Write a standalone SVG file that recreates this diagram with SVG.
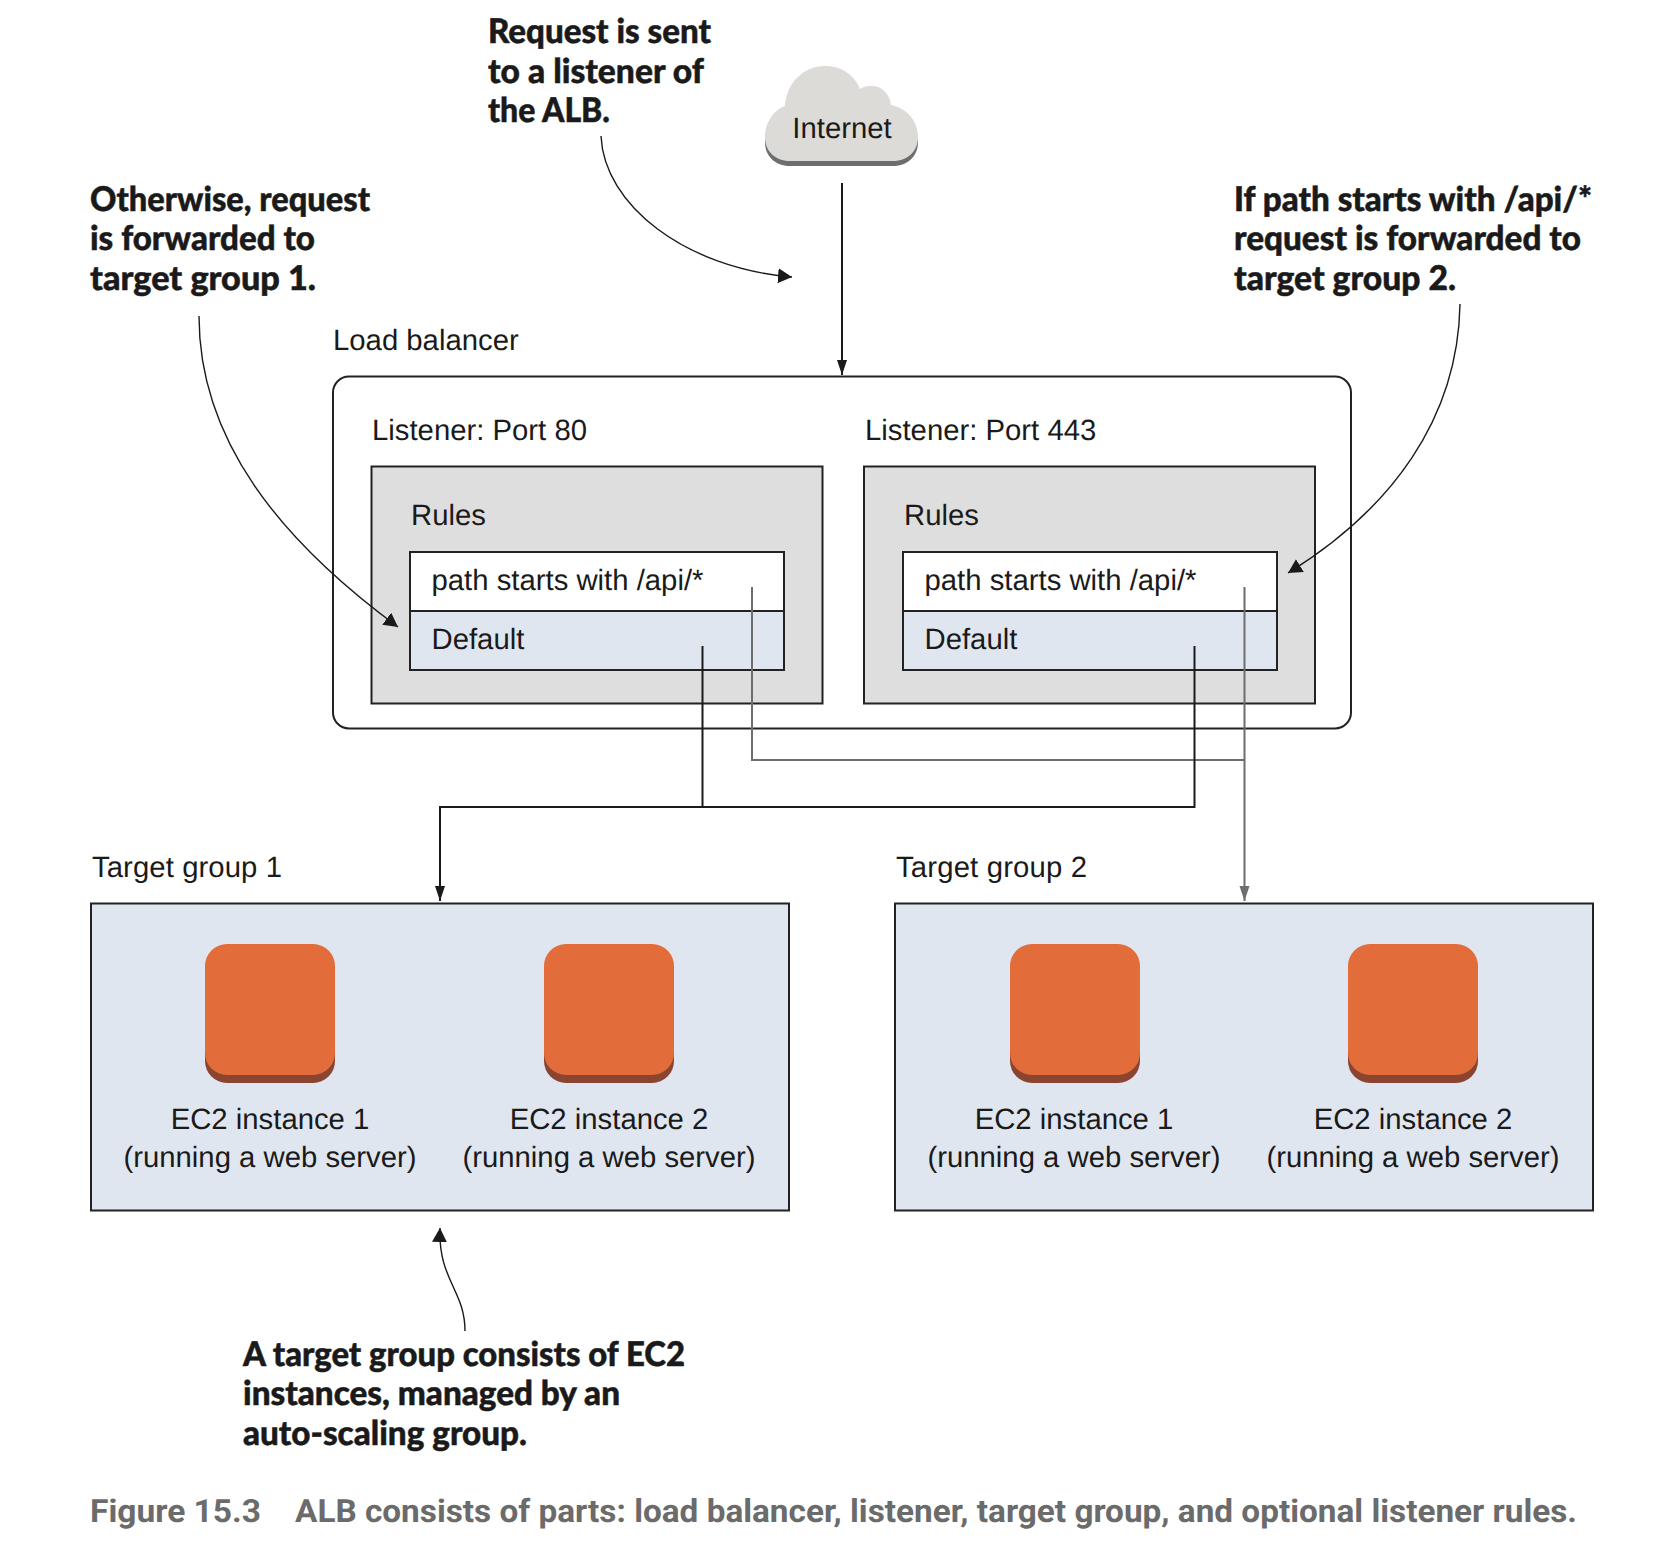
<svg xmlns="http://www.w3.org/2000/svg" width="1672" height="1548" viewBox="0 0 1672 1548">
<style>
text{text-rendering:geometricPrecision}
.t{font-family:"Liberation Sans",Arial,sans-serif;font-size:29.3px;fill:#1a1a1a}
.m{text-anchor:middle}
.c{font-family:Lato,"Noto Sans",sans-serif;font-weight:900;font-size:34px;fill:#1a1a1a;stroke:#1a1a1a;stroke-width:.5}
.f{font-family:Roboto,"Liberation Sans",sans-serif;font-weight:700;font-size:32px;fill:#6b6b6b}
.box{stroke:#222;stroke-width:2}
.gray{fill:#dedede}.blue{fill:#e0e6ef}.white{fill:#fff}
.k{fill:none;stroke:#1a1a1a;stroke-width:2}
.g{fill:none;stroke:#6d6d6d;stroke-width:2}
.n{fill:none;stroke:#1a1a1a;stroke-width:1.4}
</style>
<defs>
<marker id="ak" markerUnits="userSpaceOnUse" markerWidth="16" markerHeight="12" refX="15" refY="5" orient="auto"><path d="M0 0L15 5L0 10Z" fill="#1a1a1a"/></marker>
<marker id="ag" markerUnits="userSpaceOnUse" markerWidth="16" markerHeight="12" refX="15" refY="5" orient="auto"><path d="M0 0L15 5L0 10Z" fill="#6d6d6d"/></marker>
<marker id="an" markerUnits="userSpaceOnUse" markerWidth="15" markerHeight="16" refX="14" refY="7.500" orient="auto"><path d="M0 0L14 7.500L0 15Z" fill="#1a1a1a"/></marker>
<g id="ec2"><rect x="0" y="8" width="130" height="131" rx="22" fill="#8a4430"/><rect x="0" y="0" width="130" height="131" rx="22" fill="#e26c3a"/></g>
<path id="cloudshape" d="M790 161C775 161 765 151 765 137C765 122 774 110 785 106C786 84 803 66 825 66C843 66 855 76 860 89C864 86 868 86 872 86C882 86 890 94 891 105C906 108 918 120 918 137C918 151 908 161 893 161Z"/>
</defs>
<rect width="1672" height="1548" fill="#fff"/>

<g id="internet">
<use href="#cloudshape" y="5" fill="#6b6f6e"/>
<use href="#cloudshape" fill="#dcdbd7"/>
<text class="t m" x="842" y="138">Internet</text>
</g>

<g id="load-balancer">
<text class="t" x="333" y="350">Load balancer</text>
<rect class="box white" x="333" y="376.500" width="1018" height="352" rx="16"/>
</g>

<g id="listener-80">
<text class="t" x="372" y="440">Listener: Port 80</text>
<rect class="box gray" x="371.500" y="466.500" width="451" height="237"/>
<text class="t" x="411" y="525">Rules</text>
<rect class="box white" x="410" y="552" width="374" height="59"/>
<rect class="box blue" x="410" y="611" width="374" height="59"/>
<text class="t" x="431.500" y="590">path starts with /api/*</text>
<text class="t" x="431.500" y="649">Default</text>
</g>

<g id="listener-443">
<text class="t" x="865" y="440">Listener: Port 443</text>
<rect class="box gray" x="864" y="466.500" width="451" height="237"/>
<text class="t" x="904" y="525">Rules</text>
<rect class="box white" x="903" y="552" width="374" height="59"/>
<rect class="box blue" x="903" y="611" width="374" height="59"/>
<text class="t" x="924.500" y="590">path starts with /api/*</text>
<text class="t" x="924.500" y="649">Default</text>
</g>

<g id="target-group-1">
<text class="t" x="92" y="877" textLength="190" lengthAdjust="spacing">Target group 1</text>
<rect class="box blue" x="91" y="903.500" width="698" height="307"/>
<use href="#ec2" x="205" y="944"/>
<use href="#ec2" x="544" y="944"/>
<text class="t m" x="270" y="1129">EC2 instance 1</text>
<text class="t m" x="270" y="1167">(running a web server)</text>
<text class="t m" x="609" y="1129">EC2 instance 2</text>
<text class="t m" x="609" y="1167">(running a web server)</text>
</g>

<g id="target-group-2">
<text class="t" x="896" y="877" textLength="191" lengthAdjust="spacing">Target group 2</text>
<rect class="box blue" x="895" y="903.500" width="698" height="307"/>
<use href="#ec2" x="1010" y="944"/>
<use href="#ec2" x="1348" y="944"/>
<text class="t m" x="1074" y="1129">EC2 instance 1</text>
<text class="t m" x="1074" y="1167">(running a web server)</text>
<text class="t m" x="1413" y="1129">EC2 instance 2</text>
<text class="t m" x="1413" y="1167">(running a web server)</text>
</g>

<g id="connectors">
<path class="k" d="M842 183V375" marker-end="url(#ak)"/>
<path class="g" d="M752 587V760H1244"/>
<path class="g" d="M1244.500 587V901" marker-end="url(#ag)"/>
<path class="k" d="M702.500 646V807"/>
<path class="k" d="M1194.500 646V807H440V901" marker-end="url(#ak)"/>
<path class="n" d="M601 136C604 205 685 268 792 277" marker-end="url(#an)"/>
<path class="n" d="M199 316C199 440 280 540 398 627" marker-end="url(#an)"/>
<path class="n" d="M1460 304C1458 420 1390 510 1288 573" marker-end="url(#an)"/>
<path class="n" d="M465 1331C465 1290 438 1280 440 1228" marker-end="url(#an)"/>
</g>

<g id="callouts">
<text class="c" x="488" y="43" textLength="223" lengthAdjust="spacingAndGlyphs">Request is sent</text>
<text class="c" x="488" y="83" textLength="216" lengthAdjust="spacingAndGlyphs">to a listener of</text>
<text class="c" x="488" y="122" textLength="122" lengthAdjust="spacingAndGlyphs">the ALB.</text>
<text class="c" x="90" y="211" textLength="280" lengthAdjust="spacingAndGlyphs">Otherwise, request</text>
<text class="c" x="90" y="250" textLength="225" lengthAdjust="spacingAndGlyphs">is forwarded to</text>
<text class="c" x="90" y="290" textLength="226" lengthAdjust="spacingAndGlyphs">target group 1.</text>
<text class="c" x="1234" y="211" textLength="358" lengthAdjust="spacingAndGlyphs">If path starts with /api/*</text>
<text class="c" x="1234" y="250" textLength="347" lengthAdjust="spacingAndGlyphs">request is forwarded to</text>
<text class="c" x="1234" y="290" textLength="222" lengthAdjust="spacingAndGlyphs">target group 2.</text>
<text class="c" x="243" y="1366" textLength="442" lengthAdjust="spacingAndGlyphs">A target group consists of EC2</text>
<text class="c" x="243" y="1405" textLength="377" lengthAdjust="spacingAndGlyphs">instances, managed by an</text>
<text class="c" x="243" y="1445" textLength="284" lengthAdjust="spacingAndGlyphs">auto-scaling group.</text>
</g>

<g id="caption">
<text class="f" x="90" y="1522" textLength="171" lengthAdjust="spacingAndGlyphs">Figure 15.3</text>
<text class="f" x="295" y="1522" textLength="1282" lengthAdjust="spacingAndGlyphs">ALB consists of parts: load balancer, listener, target group, and optional listener rules.</text>
</g>
</svg>
